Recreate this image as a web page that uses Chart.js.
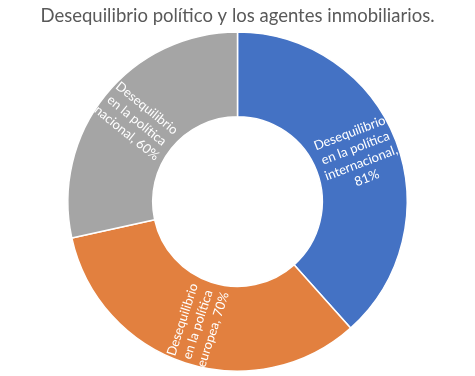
<!DOCTYPE html>
<html>
<head>
<meta charset="utf-8">
<script src="https://cdn.jsdelivr.net/npm/chart.js@4"></script>
<style>
html,body{margin:0;padding:0;background:#fff;}
#wrap{width:475px;height:376px;position:relative;}
</style>
</head>
<body>
<div id="wrap"><canvas id="c"></canvas></div>
<script>
const chartTitle = 'Desequilibrio político y los agentes inmobiliarios.';
const categories = ['Desequilibrio en la política internacional', 'Desequilibrio en la política europea', 'Desequilibrio en la política nacional'];
const values = [81, 70, 60];
const sliceColors = ['#4472C4', '#E2803F', '#A5A5A5'];

const labelFont = '13px Lato, "Noto Sans", sans-serif';

function wrapText(ctx, text, maxW) {
  const words = text.split(' ');
  const lines = [];
  let cur = '';
  for (const w of words) {
    const t = cur ? cur + ' ' + w : w;
    if (cur && ctx.measureText(t).width > maxW) { lines.push(cur); cur = w; }
    else cur = t;
  }
  if (cur) lines.push(cur);
  return lines;
}

const sliceLabels = {
  id: 'sliceLabels',
  afterDatasetsDraw(chart) {
    const ctx = chart.ctx;
    const meta = chart.getDatasetMeta(0);
    ctx.save();
    ctx.font = labelFont;
    ctx.fillStyle = '#ffffff';
    ctx.textAlign = 'center';
    ctx.textBaseline = 'middle';
    meta.data.forEach((arc, i) => {
      const p = arc.getProps(['x','y','startAngle','endAngle','innerRadius','outerRadius'], true);
      const mid = (p.startAngle + p.endAngle) / 2;
      const r = (p.innerRadius + p.outerRadius) / 2 + 2;
      const cx = p.x + Math.cos(mid) * r;
      const cy = p.y + Math.sin(mid) * r;
      let rot = mid;
      let norm = ((rot % (2*Math.PI)) + 2*Math.PI) % (2*Math.PI);
      if (norm > Math.PI/2 && norm < 3*Math.PI/2) rot -= Math.PI;
      const text = categories[i] + ', ' + values[i] + '%';
      const lines = wrapText(ctx, text, 82);
      const lh = 16;
      ctx.save();
      ctx.translate(cx, cy);
      ctx.rotate(rot);
      lines.forEach((ln, k) => {
        ctx.fillText(ln, 0, (k - (lines.length - 1) / 2) * lh);
      });
      ctx.restore();
    });
    ctx.restore();
  }
};

new Chart(document.getElementById('c'), {
  type: 'doughnut',
  data: {
    labels: categories,
    datasets: [{
      data: values,
      backgroundColor: sliceColors,
      borderColor: '#ffffff',
      borderWidth: 1.5
    }]
  },
  options: {
    responsive: true,
    maintainAspectRatio: false,
    animation: false,
    cutout: '50%',
    layout: { padding: { top: 0, bottom: 4, left: 0, right: 0 } },
    plugins: {
      legend: { display: false },
      tooltip: { enabled: false },
      title: {
        display: true,
        text: chartTitle,
        color: '#595959',
        font: { family: 'Lato, "Noto Sans", sans-serif', size: 18.5, weight: 'normal' },
        padding: { top: 5, bottom: 4 }
      }
    }
  },
  plugins: [sliceLabels]
});
</script>
</body>
</html>
